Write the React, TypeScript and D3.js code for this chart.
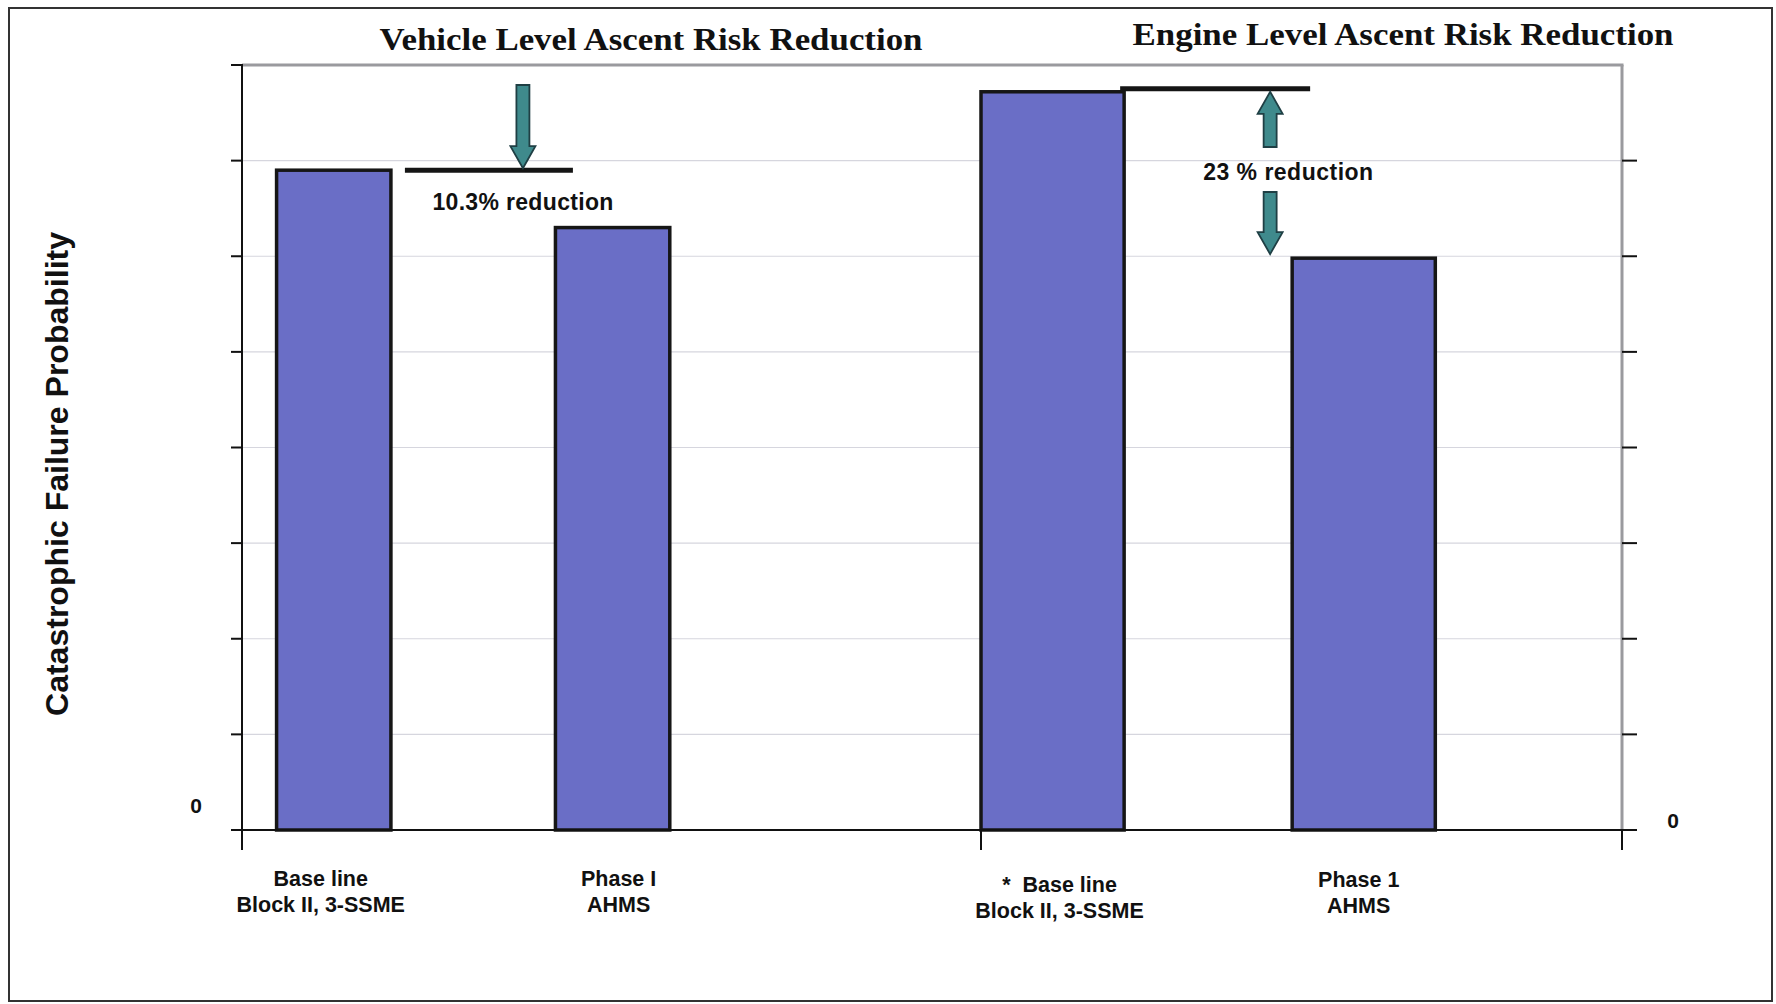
import React from 'react';
import * as d3 from 'd3';

// chart values (arbitrary probability units, axis 0..8)
const vehicleCats = ['Base line|Block II, 3-SSME', 'Phase I|AHMS'];
const vehicleValues = [6.9, 6.3];
const engineCats = ['*  Base line|Block II, 3-SSME', 'Phase 1|AHMS'];
const engineValues = [7.72, 5.98];
const yTicks = [0, 1, 2, 3, 4, 5, 6, 7, 8];
const titles = ['Vehicle Level Ascent Risk Reduction', 'Engine Level Ascent Risk Reduction'];
const notes = ['10.3% reduction', '23 % reduction'];

const W = 1776;
const H = 1004;
const margin = { top: 65, right: 154, bottom: 174, left: 242 };
const barFill = '#6a6ec6';
const arrowFill = '#3f8a8c';
const arrowStroke = '#1f3f44';
const sans = 'Arial, "Liberation Sans", Helvetica, sans-serif';
const serif = '"Times New Roman", "Liberation Serif", serif';

// simple block arrow, tip at (x, tipY), tail at tailY
function BlockArrow({ x, tipY, tailY }: { x: number; tipY: number; tailY: number }) {
  const dir = tailY > tipY ? 1 : -1;
  const shaft = 6.5;
  const head = 12.5;
  const headLen = 22;
  const neck = tipY + dir * headLen;
  const p = [
    [x, tipY],
    [x + head, neck],
    [x + shaft, neck],
    [x + shaft, tailY],
    [x - shaft, tailY],
    [x - shaft, neck],
    [x - head, neck]
  ];
  return (
    <path
      d={d3.line()(p as [number, number][]) + 'Z'}
      fill={arrowFill}
      stroke={arrowStroke}
      strokeWidth={1.8}
      strokeLinejoin="miter"
    />
  );
}

function XLabel({ x, y, label }: { x: number; y: number; label: string }) {
  const lines = label.split('|');
  return (
    <text x={x} y={y} textAnchor="middle" fontFamily={sans} fontWeight="bold" fontSize={21.5} fill="#111">
      {lines.map((l, i) => (
        <tspan key={i} x={x} dy={i === 0 ? 0 : 26} style={{ whiteSpace: 'pre' }}>{l}</tspan>
      ))}
    </text>
  );
}

export default function App() {
  const left = margin.left;
  const right = W - margin.right;
  const top = margin.top;
  const bottom = H - margin.bottom;
  const mid = 981;

  const y = d3.scaleLinear().domain([0, 8]).range([bottom, top]);

  const xVeh = d3.scaleBand<string>()
    .domain(vehicleCats)
    .range([left, mid])
    .paddingInner(0.59)
    .paddingOuter(0.62)
    .align(0.1);

  const xEng = d3.scaleBand<string>()
    .domain(engineCats)
    .range([mid, right])
    .paddingInner(0.54)
    .paddingOuter(0.3)
    .align(0);

  const vehBars = vehicleCats.map((c, i) => ({ x: xVeh(c) as number, w: xVeh.bandwidth(), v: vehicleValues[i], c }));
  const engBars = engineCats.map((c, i) => ({ x: xEng(c) as number, w: xEng.bandwidth(), v: engineValues[i], c }));
  const bars = vehBars.concat(engBars);

  // annotation geometry tied to the bars
  const vehTop = y(vehicleValues[0]);
  const vehLineX0 = vehBars[0].x + vehBars[0].w + 14;
  const vehLineX1 = vehLineX0 + 168;
  const vehArrowX = (vehLineX0 + vehLineX1) / 2 + 34;

  const engTop = y(engineValues[0]);
  const engLow = y(engineValues[1]);
  const engLineX0 = engBars[0].x + engBars[0].w - 4;
  const engLineX1 = engLineX0 + 190;
  const engArrowX = engLineX0 + 150;

  return (
    <svg width={W} height={H} style={{ position: 'absolute', left: 0, top: 0, background: '#fff' }}>
      <rect x={9} y={8} width={1763} height={993} fill="#fff" stroke="#333" strokeWidth={2} />

      {/* gridlines */}
      {yTicks.filter(t => t > 0 && t < 8).map(t => (
        <line key={'g' + t} x1={left} x2={right} y1={y(t)} y2={y(t)} stroke="#d6d6de" strokeWidth={1.2} />
      ))}

      {/* plot frame, top and right in gray */}
      <line x1={left} x2={right + 1.5} y1={top} y2={top} stroke="#9a9a9e" strokeWidth={3} />
      <line x1={right} x2={right} y1={top} y2={bottom} stroke="#9a9a9e" strokeWidth={3} />

      {/* left axis */}
      <line x1={left} x2={left} y1={top - 1} y2={bottom + 20} stroke="#111" strokeWidth={2} />
      {yTicks.map(t => (
        <line key={'lt' + t} x1={left - 11} x2={left} y1={y(t)} y2={y(t)} stroke="#111" strokeWidth={2} />
      ))}
      {/* right axis ticks */}
      {yTicks.filter(t => t < 8).map(t => (
        <line key={'rt' + t} x1={right} x2={right + 15} y1={y(t)} y2={y(t)} stroke="#111" strokeWidth={2} />
      ))}

      {/* bars */}
      {bars.map((b, i) => (
        <rect
          key={i}
          x={b.x}
          y={y(b.v)}
          width={b.w}
          height={y(0) - y(b.v)}
          fill={barFill}
          stroke="#161616"
          strokeWidth={3.5}
        />
      ))}

      {/* x axis */}
      <line x1={left - 11} x2={right + 15} y1={bottom} y2={bottom} stroke="#111" strokeWidth={2.2} />
      {[left, mid, right].map((x, i) => (
        <line key={'xt' + i} x1={x} x2={x} y1={bottom} y2={bottom + 20} stroke="#111" strokeWidth={2} />
      ))}

      <text x={196} y={813} textAnchor="middle" fontFamily={sans} fontWeight="bold" fontSize={21} fill="#111">0</text>
      <text x={1673} y={828} textAnchor="middle" fontFamily={sans} fontWeight="bold" fontSize={21} fill="#111">0</text>

      {/* category labels */}
      {vehBars.map((b, i) => (
        <XLabel key={'vl' + i} x={b.x + b.w / 2 - (i === 0 ? 13 : -6)} y={886} label={b.c} />
      ))}
      {engBars.map((b, i) => (
        <XLabel key={'el' + i} x={b.x + b.w / 2 + (i === 0 ? 7 : -5)} y={i === 0 ? 892 : 887} label={b.c} />
      ))}

      {/* vehicle annotation */}
      <line x1={vehLineX0} x2={vehLineX1} y1={vehTop} y2={vehTop} stroke="#151515" strokeWidth={5} />
      <BlockArrow x={vehArrowX} tipY={vehTop - 2} tailY={85} />
      <text x={vehArrowX} y={210} textAnchor="middle" fontFamily={sans} fontWeight="bold" fontSize={23} fill="#111" textLength={181}>
        {notes[0]}
      </text>

      {/* engine annotation */}
      <line x1={engLineX0} x2={engLineX1} y1={engTop - 3} y2={engTop - 3} stroke="#151515" strokeWidth={5} />
      <BlockArrow x={engArrowX} tipY={engTop} tailY={147} />
      <BlockArrow x={engArrowX} tipY={engLow - 4} tailY={192} />
      <text x={engArrowX + 18} y={180} textAnchor="middle" fontFamily={sans} fontWeight="bold" fontSize={23} fill="#111" textLength={170}>
        {notes[1]}
      </text>

      {/* titles */}
      <text x={651} y={50} textAnchor="middle" fontFamily={serif} fontWeight="bold" fontSize={31} fill="#111" textLength={543} lengthAdjust="spacingAndGlyphs">
        {titles[0]}
      </text>
      <text x={1403} y={45} textAnchor="middle" fontFamily={serif} fontWeight="bold" fontSize={31} fill="#111" textLength={541} lengthAdjust="spacingAndGlyphs">
        {titles[1]}
      </text>

      {/* y axis title */}
      <text
        transform={`translate(68, 474) rotate(-90)`}
        textAnchor="middle"
        fontFamily={sans}
        fontWeight="bold"
        fontSize={31}
        fill="#111"
        textLength={484}
        lengthAdjust="spacingAndGlyphs"
      >
        Catastrophic Failure Probability
      </text>
    </svg>
  );
}
